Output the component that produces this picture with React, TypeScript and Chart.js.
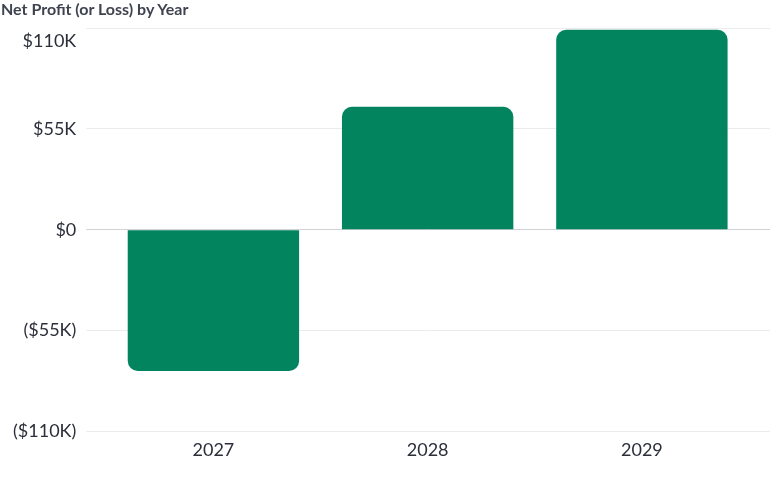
import { useEffect, useRef } from 'react'
import { Chart, registerables } from 'chart.js'

Chart.register(...registerables)

const years = ['2027', '2028', '2029']
const netProfit = [-77000, 67000, 109000]
const tickStep = 55000
const axisMin = -110000
const axisMax = 110000

const money = (v: number) => {
  if (v === 0) return '$0'
  const k = Math.abs(v) / 1000
  return v < 0 ? `($${k}K)` : `$${k}K`
}

const gridColor = (ctx: any) => (ctx.tick && ctx.tick.value === 0 ? '#d2d2d6' : '#ebebee')

const App = () => {
  const canvas = useRef<HTMLCanvasElement>(null)

  useEffect(() => {
    document.body.style.margin = '0'
    if (!canvas.current) return
    const font = { family: 'Lato', size: 18 }
    const chart = new Chart(canvas.current, {
      type: 'bar',
      data: {
        labels: years,
        datasets: [
          {
            data: netProfit,
            backgroundColor: '#02845f',
            borderRadius: 10,
            barPercentage: 0.8,
            categoryPercentage: 1,
          },
        ],
      },
      options: {
        animation: false,
        responsive: true,
        maintainAspectRatio: false,
        layout: { padding: { top: 28, left: 3, right: 0, bottom: 16 } },
        plugins: { legend: { display: false }, tooltip: { enabled: false } },
        scales: {
          x: {
            grid: { display: false },
            border: { display: false },
            ticks: { color: '#2c2f3a', font, padding: 0 },
          },
          y: {
            min: axisMin,
            max: axisMax,
            border: { display: false },
            grid: { tickLength: 20, color: gridColor },
            // keep the plot area where the reference has it
            afterFit: (scale: any) => {
              scale.paddingTop = 0
              scale.paddingBottom = 0
            },
            ticks: {
              stepSize: tickStep,
              padding: 10,
              color: '#2c2f3a',
              font: (ctx: any) =>
                ctx.tick && ctx.tick.value === axisMax
                  ? { family: 'Lato', size: 18, lineHeight: '26px' }
                  : font,
              // top label sits a bit under its grid line
              callback: (v: any) => (Number(v) === axisMax ? ['', money(Number(v))] : money(Number(v))),
            },
          },
          y2: {
            position: 'right',
            min: axisMin,
            max: axisMax,
            border: { display: false },
            grid: { drawOnChartArea: false, tickLength: 21, color: gridColor },
            afterFit: (scale: any) => {
              scale.paddingTop = 0
              scale.paddingBottom = 0
            },
            ticks: { display: false, stepSize: tickStep },
          },
        },
      },
    } as any)
    return () => {
      chart.destroy()
    }
  }, [])

  return (
    <div style={{ position: 'relative', width: 770, height: 477 }}>
      <div
        style={{
          position: 'absolute',
          left: 1,
          top: -1,
          font: 'bold 16px Lato',
          color: '#3f4350',
          whiteSpace: 'nowrap',
        }}
      >
        Net Profit (or Loss) by Year
      </div>
      <canvas ref={canvas} />
    </div>
  )
}

export default App
